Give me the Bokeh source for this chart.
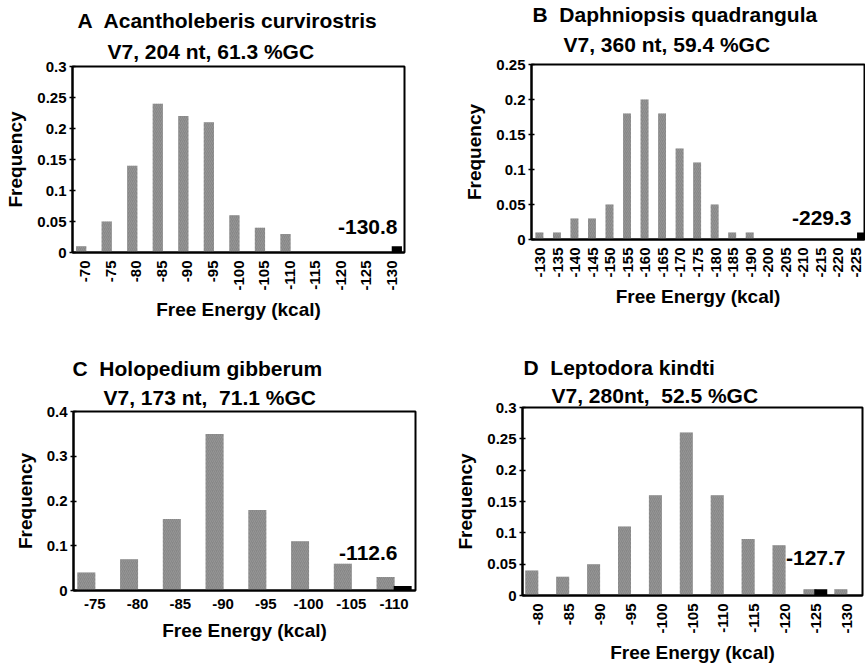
from bokeh.plotting import figure
from bokeh.models import ColumnDataSource, FactorRange, FixedTicker, CustomJSTickFormatter, Label, Title
from bokeh.transform import dodge
from bokeh.layouts import column, row
from bokeh.embed import file_html
from bokeh.resources import INLINE
import math

# ---- data ----
A_cats = ["-70", "-75", "-80", "-85", "-90", "-95", "-100", "-105", "-110", "-115", "-120", "-125", "-130"]
A_freq = [0.01, 0.05, 0.14, 0.24, 0.22, 0.21, 0.06, 0.04, 0.03, 0, 0, 0, 0]
A_native_cat = ["-130"]
A_native_freq = [0.01]
A_yticks = [0, 0.05, 0.1, 0.15, 0.2, 0.25, 0.3]

B_cats = ["-130", "-135", "-140", "-145", "-150", "-155", "-160", "-165", "-170", "-175",
          "-180", "-185", "-190", "-200", "-205", "-210", "-215", "-220", "-225"]
B_freq = [0.01, 0.01, 0.03, 0.03, 0.05, 0.18, 0.20, 0.18, 0.13, 0.11,
          0.05, 0.01, 0.01, 0, 0, 0, 0, 0, 0]
B_native_cat = ["-225"]
B_native_freq = [0.01]
B_yticks = [0, 0.05, 0.1, 0.15, 0.2, 0.25]

C_cats = ["-75", "-80", "-85", "-90", "-95", "-100", "-105", "-110"]
C_freq = [0.04, 0.07, 0.16, 0.35, 0.18, 0.11, 0.06, 0.03]
C_native_cat = ["-110"]
C_native_freq = [0.01]
C_yticks = [0, 0.1, 0.2, 0.3, 0.4]

D_cats = ["-80", "-85", "-90", "-95", "-100", "-105", "-110", "-115", "-120", "-125", "-130"]
D_freq = [0.04, 0.03, 0.05, 0.11, 0.16, 0.26, 0.16, 0.09, 0.08, 0.01, 0.01]
D_native_cat = ["-125"]
D_native_freq = [0.01]
D_yticks = [0, 0.05, 0.1, 0.15, 0.2, 0.25, 0.3]

titles = ["A  Acantholeberis curvirostris", "B  Daphniopsis quadrangula",
          "C  Holopedium gibberum", "D  Leptodora kindti"]
subtitles = ["V7, 204 nt, 61.3 %GC", "V7, 360 nt, 59.4 %GC",
             "V7, 173 nt,  71.1 %GC", "V7, 280nt,  52.5 %GC"]
native_labels = ["-130.8", "-229.3", "-112.6", "-127.7"]

FONT = "Liberation Sans"
GREY = "#878787"


def keep_spaces(s):
    # SVG collapses runs of spaces; keep the visible double gap
    return s.replace("  ", "\u00a0 ")


def panel(cats, freq, ncat, nfreq, yticks, w, h, bl, br, bt, bb,
          title, sub, toff, tstand, soff, sstand, ann, apos, vertical, bw, goff, boff):
    p = figure(width=w, height=h, x_range=FactorRange(*cats),
               y_range=(0, yticks[-1]), output_backend="svg", toolbar_location=None,
               min_border_left=bl, min_border_right=br, min_border_top=bt, min_border_bottom=bb)
    src = ColumnDataSource(dict(cat=cats, freq=freq))
    nsrc = ColumnDataSource(dict(cat=ncat, freq=nfreq))
    p.vbar(x=dodge("cat", goff, range=p.x_range), top="freq", width=bw, source=src,
           fill_color=GREY, line_color=None,
           hatch_pattern="right_diagonal_line", hatch_color="#a0a0a0", hatch_scale=4, hatch_weight=0.6)
    p.vbar(x=dodge("cat", boff, range=p.x_range), top="freq", width=bw, source=nsrc,
           fill_color="black", line_color=None)
    p.xgrid.visible = False
    p.ygrid.visible = False
    p.outline_line_color = "black"
    p.outline_line_width = 2
    p.background_fill_color = "white"
    p.border_fill_color = "white"

    yax = p.yaxis[0]
    yax.ticker = FixedTicker(ticks=yticks)
    yax.formatter = CustomJSTickFormatter(code="return String(Math.round(tick*100)/100)")
    yax.axis_label = "Frequency"
    yax.minor_tick_line_color = None
    yax.major_tick_in = 3
    yax.major_tick_out = 3
    yax.major_tick_line_width = 1.5
    yax.axis_line_width = 2
    yax.major_label_standoff = 3
    yax.axis_label_standoff = 8

    xax = p.xaxis[0]
    xax.axis_label = "Free Energy (kcal)"
    xax.major_tick_in = 0
    xax.major_tick_out = 0
    xax.axis_line_width = 2
    xax.major_label_standoff = 8
    xax.axis_label_standoff = 8
    if vertical:
        xax.major_label_orientation = math.pi / 2
        xax.axis_label_standoff = 5

    for ax in (xax, yax):
        ax.major_label_text_font = FONT
        ax.major_label_text_font_style = "bold"
        ax.major_label_text_font_size = "15px"
        ax.major_label_text_color = "black"
        ax.axis_label_text_font = FONT
        ax.axis_label_text_font_style = "bold"
        ax.axis_label_text_font_size = "19px"
        ax.axis_label_text_color = "black"

    p.add_layout(Title(text=keep_spaces(sub), align="left", offset=soff, standoff=sstand,
                       text_font=FONT, text_font_style="bold", text_font_size="21px",
                       text_color="black"), "above")
    p.add_layout(Title(text=keep_spaces(title), align="left", offset=toff, standoff=tstand,
                       text_font=FONT, text_font_style="bold", text_font_size="21px",
                       text_color="black"), "above")
    p.add_layout(Label(x=apos[0], y=apos[1], x_units="screen", y_units="screen",
                       text=ann, text_font=FONT, text_font_style="bold", text_color="black",
                       text_font_size="21px", text_baseline="middle", text_align="right"))
    return p


pA = panel(A_cats, A_freq, A_native_cat, A_native_freq, A_yticks, 430, 330, 72, 26, 66, 78,
           titles[0], subtitles[0], 5, 4, 35, 8, native_labels[0], (325, 26),
           True, 0.4, -0.16, 0.2)
pB = panel(B_cats, B_freq, B_native_cat, B_native_freq, B_yticks, 435, 330, 101, 1, 64, 91,
           titles[1], subtitles[1], 1, -6, 32, 17, native_labels[1], (320, 22),
           True, 0.45, -0.05, 0.3)
pC = panel(C_cats, C_freq, C_native_cat, C_native_freq, C_yticks, 430, 336, 73, 15, 81, 76,
           titles[2], subtitles[2], -1, 2, 30, 6, native_labels[2], (324, 38),
           False, 0.42, -0.2, 0.2)
pD = panel(D_cats, D_freq, D_native_cat, D_native_freq, D_yticks, 435, 336, 92, 3, 77, 71,
           titles[3], subtitles[3], 1, 3, 29, 2, native_labels[3], (323, 38),
           True, 0.42, -0.2, 0.15)

layout = column(row(column(pA), column(pB)), row(column(pC), column(pD)))
open("out.html", "w").write(file_html(layout, INLINE))
